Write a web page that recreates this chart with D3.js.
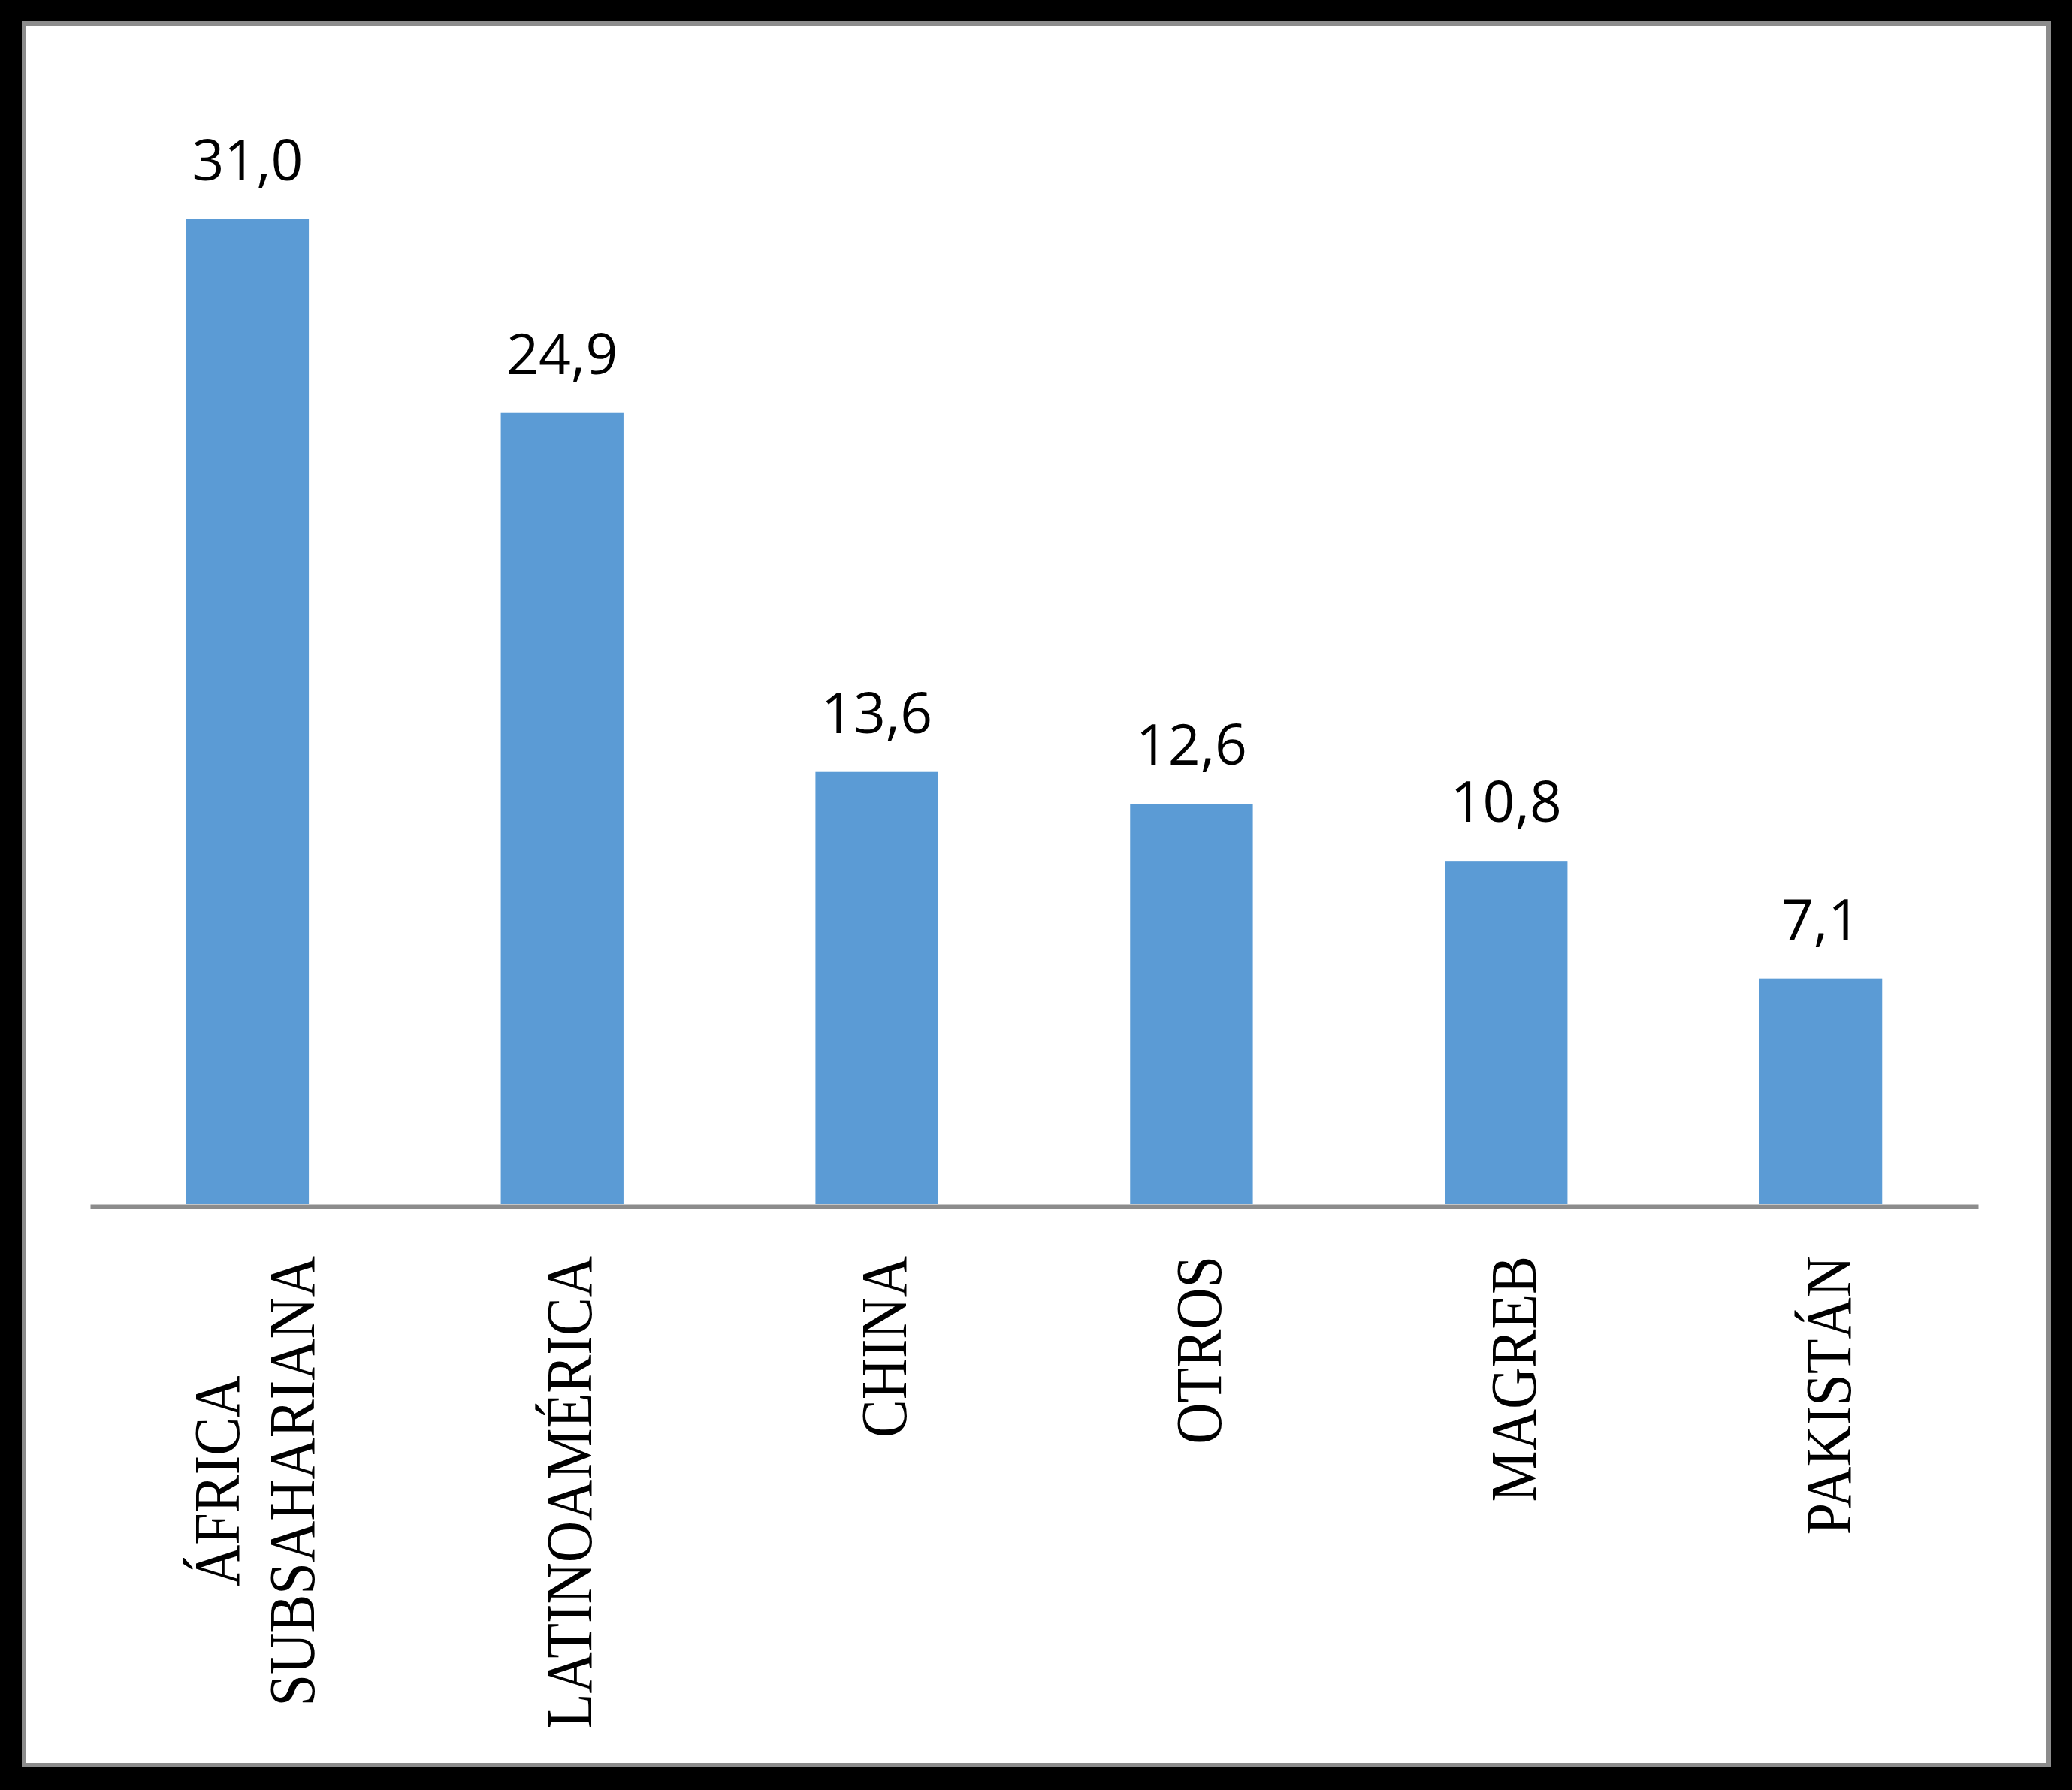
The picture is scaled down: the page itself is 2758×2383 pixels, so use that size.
<!DOCTYPE html>
<html>
<head>
<meta charset="utf-8">
<script src="https://cdn.jsdelivr.net/npm/d3@7/dist/d3.min.js"></script>
<style>
  html, body { margin: 0; padding: 0; background: #000; }
  svg { display: block; }
</style>
</head>
<body>
<script>
// ---- data ----
const categories = ["ÁFRICA\nSUBSAHARIANA", "LATINOAMÉRICA", "CHINA", "OTROS", "MAGREB", "PAKISTÁN"];
const values = [31.0, 24.9, 13.6, 12.6, 10.8, 7.1];
const valueLabels = ["31,0", "24,9", "13,6", "12,6", "10,8", "7,1"];

const W = 2758, H = 2383;
const svg = d3.select("body").append("svg").attr("width", W).attr("height", H);

// background + frame
svg.append("rect").attr("x", 0).attr("y", 0).attr("width", W).attr("height", H).attr("fill", "#000");
svg.append("rect").attr("x", 32).attr("y", 31).attr("width", 2695).attr("height", 2319)
  .attr("fill", "#fff").attr("stroke", "#8c8c8c").attr("stroke-width", 6);

const x = d3.scaleBand().domain(categories).range([120, 2633]).paddingInner(0.61).paddingOuter(0.305);
const y = d3.scaleLinear().domain([0, 35]).range([1603, 1603 - 35 * 42.3]);

// bars
svg.append("g").selectAll("rect").data(values).join("rect")
  .attr("x", (d, i) => x(categories[i]))
  .attr("y", d => y(d))
  .attr("width", x.bandwidth())
  .attr("height", d => y(0) - y(d))
  .attr("fill", "#5b9bd5");

// axis line
const axis = svg.append("g").attr("transform", `translate(0,${y(0) + 3})`)
  .call(d3.axisBottom(x).tickSize(0).tickFormat(""));
axis.select(".domain").attr("stroke", "#8c8c8c").attr("stroke-width", 6);

// value labels
svg.append("g").selectAll("text").data(values).join("text")
  .attr("x", (d, i) => x(categories[i]) + x.bandwidth() / 2)
  .attr("y", d => y(d) - 52)
  .attr("text-anchor", "middle")
  .attr("font-family", "'Open Sans', sans-serif")
  .attr("font-size", 75)
  .attr("fill", "#000")
  .text((d, i) => valueLabels[i]);

// category labels (rotated, serif, slightly condensed)
const squeeze = 0.89, topY = 1672, lineGap = 100, baseOff = 39;
const labG = svg.append("g");
categories.forEach((c, i) => {
  const lines = c.split("\n");
  const cx = x(c) + x.bandwidth() / 2;
  const texts = lines.map((ln, j) => {
    const bx = cx + baseOff + (j - (lines.length - 1) / 2) * lineGap;
    const g = labG.append("g");
    const t = g.append("text")
      .attr("text-anchor", "middle")
      .attr("font-family", "'Liberation Serif', serif")
      .attr("font-size", 86)
      .attr("fill", "#000")
      .attr("transform", `scale(${squeeze},1)`)
      .text(ln);
    return { g, t, bx };
  });
  const maxLen = d3.max(texts, o => o.t.node().getComputedTextLength()) * squeeze;
  texts.forEach(o => {
    o.g.attr("transform", `translate(${o.bx},${topY + maxLen / 2}) rotate(-90)`);
  });
});
</script>
</body>
</html>
